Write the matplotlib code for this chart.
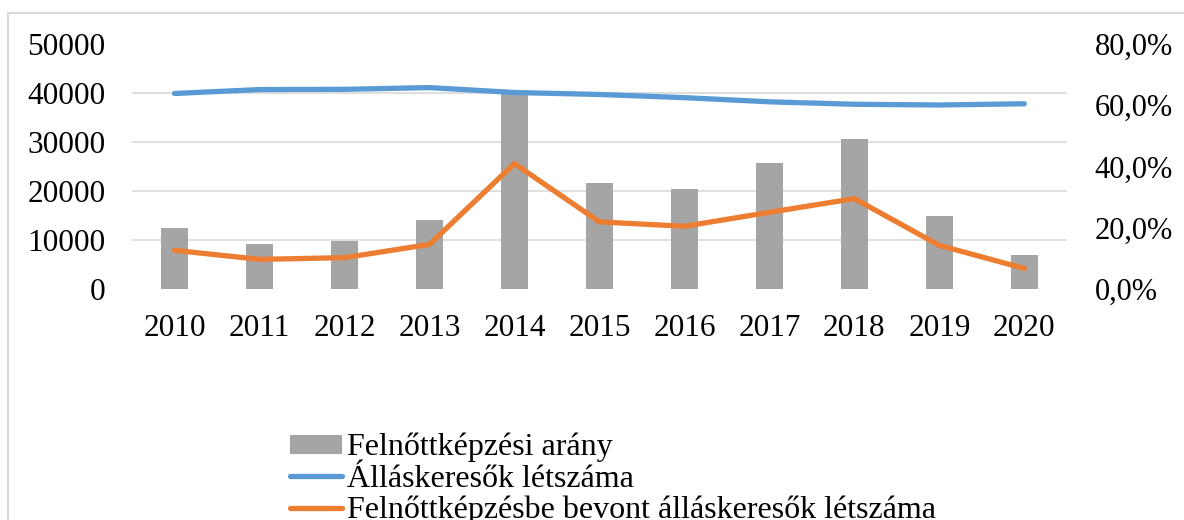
import matplotlib
matplotlib.use("Agg")
import matplotlib.pyplot as plt
from matplotlib.ticker import FixedLocator, FuncFormatter
from matplotlib.patches import Rectangle
import numpy as np

years = ['2010', '2011', '2012', '2013', '2014', '2015', '2016', '2017', '2018', '2019', '2020']
# Felnőttképzési arány (%), right axis
arany = [19.8, 14.7, 15.7, 22.4, 63.8, 34.5, 32.7, 41.0, 49.0, 23.8, 11.0]
# Álláskeresők létszáma, left axis
allaskeresok = [39900, 40700, 40750, 41100, 40100, 39700, 39050, 38200, 37700, 37550, 37800]
# Felnőttképzésbe bevont álláskeresők létszáma, left axis
bevont = [7900, 6050, 6400, 9100, 25600, 13700, 12800, 15650, 18450, 8900, 4200]

left_ticks = [0, 10000, 20000, 30000, 40000, 50000]
right_ticks = [0, 20, 40, 60, 80]

plt.rcParams['font.family'] = ['Liberation Serif', 'DejaVu Serif']

fig = plt.figure(figsize=(11.84, 5.2), dpi=100)
ax = fig.add_axes([0.1115, 0.4442, 0.7895, 0.4712])
ax2 = ax.twinx()

x = np.arange(len(years))

# bars on the percentage axis, drawn below the lines
ax2.bar(x, arany, width=0.32, color='#A5A5A5', label='Felnőttképzési arány', zorder=2)
ax2.set_ylim(0, 80)
ax2.set_yticks(right_ticks)
ax2.yaxis.set_major_formatter(FuncFormatter(lambda v, p: f'{v:.1f}'.replace('.', ',') + '%'))
# gridlines follow the left axis ticks
ax2.yaxis.set_minor_locator(FixedLocator([t * 80 / 50000 for t in left_ticks]))
ax2.grid(which='minor', axis='y', color='#D9D9D9', linewidth=1.2, zorder=0)
ax2.set_axisbelow(True)
ax2.tick_params(axis='y', which='both', length=0, labelsize=22, pad=20)

ax.plot(x, allaskeresok, color='#5B9BD5', linewidth=3.8, solid_capstyle='round',
        solid_joinstyle='round', label='Álláskeresők létszáma')
ax.plot(x, bevont, color='#ED7D31', linewidth=3.8, solid_capstyle='round',
        solid_joinstyle='round', label='Felnőttképzésbe bevont álláskeresők létszáma')
ax.set_ylim(0, 50000)
ax.set_yticks(left_ticks)
ax.set_xlim(-0.5, len(years) - 0.5)
ax.set_xticks(x)
ax.set_xticklabels(years)
ax.tick_params(axis='both', length=0, labelsize=22.5)
ax.tick_params(axis='y', pad=19)
ax.tick_params(axis='x', pad=18)

ax.set_zorder(ax2.get_zorder() + 1)
ax.patch.set_visible(False)

for a in (ax, ax2):
    for s in a.spines.values():
        s.set_visible(False)

# legend is cropped at the bottom edge, as in the original
h1, l1 = ax2.get_legend_handles_labels()
h2, l2 = ax.get_legend_handles_labels()
fig.legend(h1 + h2, l1 + l2, loc='upper left', bbox_to_anchor=(290 / 1184, 1 - 433 / 520),
           frameon=False, fontsize=23, labelspacing=0.07, handlelength=1.62,
           handleheight=0.55, handletextpad=0.15, borderpad=0, borderaxespad=0)

# chart frame (cropped on the right and bottom)
fig.patches.append(Rectangle((8 / 1184, -0.1), 1.2, 1 - 13 / 520 + 0.1,
                             transform=fig.transFigure, fill=False,
                             edgecolor='#D9D9D9', linewidth=1.5))

fig.savefig('out.png', dpi=100)
